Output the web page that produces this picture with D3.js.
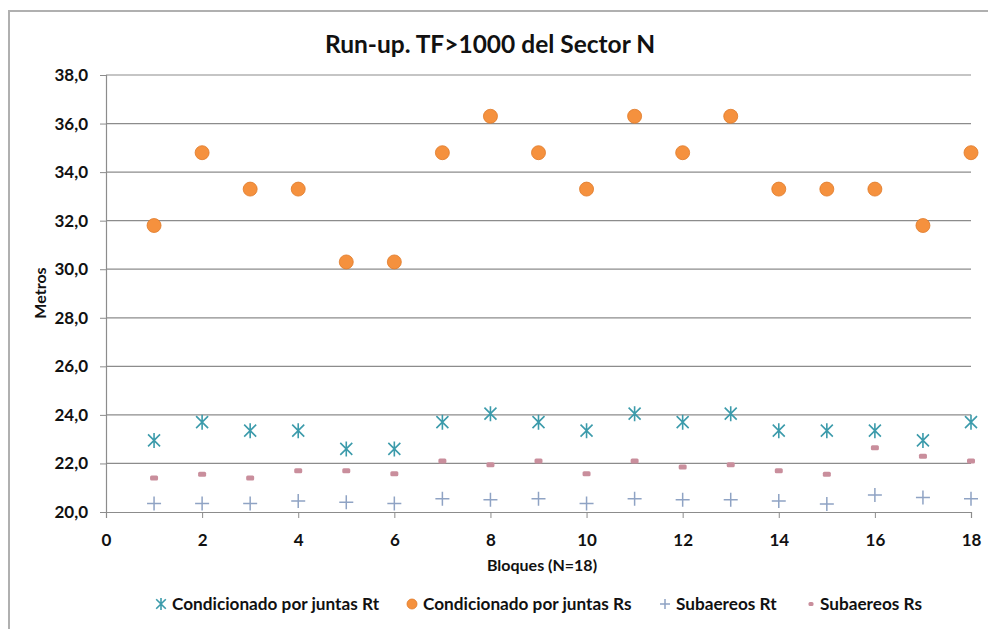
<!DOCTYPE html>
<html><head><meta charset="utf-8">
<script src="https://cdn.jsdelivr.net/npm/d3@7"></script>
<style>body{margin:0;background:#fff;} svg{display:block;}</style>
</head><body>
<svg id="c" width="988" height="629"></svg>
<script>
const bloques = [1,2,3,4,5,6,7,8,9,10,11,12,13,14,15,16,17,18];
const juntasRt = [22.95,23.7,23.35,23.35,22.6,22.6,23.7,24.05,23.7,23.35,24.05,23.7,24.05,23.35,23.35,23.35,22.95,23.7];
const juntasRs = [31.8,34.8,33.3,33.3,30.3,30.3,34.8,36.3,34.8,33.3,36.3,34.8,36.3,33.3,33.3,33.3,31.8,34.8];
const subRt = [20.35,20.35,20.35,20.45,20.4,20.35,20.55,20.5,20.55,20.35,20.55,20.5,20.5,20.45,20.33,20.7,20.6,20.55];
const subRs = [21.4,21.55,21.4,21.7,21.7,21.58,22.1,21.95,22.1,21.58,22.1,21.85,21.95,21.7,21.55,22.65,22.3,22.1];
const xTicks = [0,2,4,6,8,10,12,14,16,18];
const yTicks = [20,22,24,26,28,30,32,34,36,38];
const seriesNames = ["Condicionado por juntas Rt","Condicionado por juntas Rs","Subaereos Rt","Subaereos Rs"];

const FONT = "Lato, 'Open Sans', sans-serif";
const svg = d3.select("#c");
// frame
svg.append("path").attr("d","M9,640 L9,11 L1000,11").attr("fill","none").attr("stroke","#b0b0b0").attr("stroke-width",2);

const x = d3.scaleLinear().domain([0,18]).range([106,971]);
const y = d3.scaleLinear().domain([20,38]).range([512,75]);

// gridlines
svg.append("g").selectAll("line").data(yTicks.filter(d=>d>20)).join("line")
  .attr("x1",x(0)).attr("x2",x(18)).attr("y1",d=>y(d)).attr("y2",d=>y(d))
  .attr("stroke","#8c8c8c").attr("stroke-width",1.2);

// y axis
const ya = svg.append("g").attr("transform",`translate(${x(0)},0)`)
  .call(d3.axisLeft(y).tickValues(yTicks).tickSize(6).tickPadding(12).tickFormat(d=>d3.format(".1f")(d).replace(".",",")));
ya.select(".domain").attr("stroke","#8c8c8c").attr("stroke-width",1.2);
ya.selectAll(".tick line").attr("stroke","#8c8c8c");
ya.selectAll("text").attr("font-family",FONT).attr("font-weight","bold").attr("font-size",17).attr("fill","#111");

// x axis
const xa = svg.append("g").attr("transform",`translate(0,${y(20)})`)
  .call(d3.axisBottom(x).tickValues(xTicks).tickSize(6).tickPadding(16).tickFormat(d3.format("d")));
xa.select(".domain").attr("stroke","#8c8c8c").attr("stroke-width",1.2);
xa.selectAll(".tick line").attr("stroke","#8c8c8c");
xa.selectAll("text").attr("font-family",FONT).attr("font-weight","bold").attr("font-size",17).attr("fill","#111");

// title & axis titles
svg.append("text").attr("x",490).attr("y",53).attr("text-anchor","middle")
  .attr("font-family",FONT).attr("font-weight","bold").attr("font-size",24.5).attr("fill","#111")
  .text("Run-up. TF>1000 del Sector N");
svg.append("text").attr("x",542).attr("y",571).attr("text-anchor","middle")
  .attr("font-family",FONT).attr("font-weight","bold").attr("font-size",16).attr("fill","#111")
  .text("Bloques (N=18)");
svg.append("text").attr("transform","translate(46,293) rotate(-90)").attr("text-anchor","middle")
  .attr("font-family",FONT).attr("font-weight","bold").attr("font-size",16).attr("fill","#111")
  .text("Metros");

// marker drawers
const teal = "#3c9bab", orange = "#f5913e", blueg = "#8fa3c4", pink = "#c98e9c";
function star(g, cx, cy, s){
  const h = s/2;
  g.append("path").attr("d",`M${cx-h*0.8},${cy-h*0.8}L${cx+h*0.8},${cy+h*0.8}M${cx-h*0.8},${cy+h*0.8}L${cx+h*0.8},${cy-h*0.8}M${cx},${cy-h}L${cx},${cy+h}`)
    .attr("stroke",teal).attr("stroke-width",1.6).attr("fill","none");
}
function dot(g, cx, cy, r){
  g.append("circle").attr("cx",cx).attr("cy",cy).attr("r",r).attr("fill",orange).attr("stroke","#e07a28").attr("stroke-width",0.8);
}
function plus(g, cx, cy, s){
  const h = s/2;
  g.append("path").attr("d",`M${cx-h},${cy}L${cx+h},${cy}M${cx},${cy-h}L${cx},${cy+h}`)
    .attr("stroke",blueg).attr("stroke-width",1.5).attr("fill","none");
}
function dash(g, cx, cy, w, hgt){
  g.append("rect").attr("x",cx-w/2).attr("y",cy-hgt/2).attr("width",w).attr("height",hgt).attr("rx",1.5)
    .attr("fill",pink);
}

const gp = svg.append("g");
bloques.forEach((b,i)=>{ plus(gp, x(b), y(subRt[i]), 14); });
bloques.forEach((b,i)=>{ dash(gp, x(b), y(subRs[i]), 8, 5); });
bloques.forEach((b,i)=>{ star(gp, x(b), y(juntasRt[i]), 15); });
bloques.forEach((b,i)=>{ dot(gp, x(b), y(juntasRs[i]), 7); });

// legend
const lg = svg.append("g");
const ly = 604;
const items = [
  {name:seriesNames[0], mx:161, tx:172, draw:(g,cx,cy)=>star(g,cx,cy,12)},
  {name:seriesNames[1], mx:412, tx:423, draw:(g,cx,cy)=>dot(g,cx,cy,5)},
  {name:seriesNames[2], mx:665, tx:676, draw:(g,cx,cy)=>plus(g,cx,cy,10)},
  {name:seriesNames[3], mx:811, tx:820, draw:(g,cx,cy)=>dash(g,cx,cy,5,4)}
];
items.forEach(it=>{
  it.draw(lg, it.mx, ly);
  lg.append("text").attr("x",it.tx).attr("y",ly+6).attr("font-family",FONT).attr("font-weight","bold")
    .attr("font-size",17.2).attr("fill","#111").text(it.name);
});
</script>
</body></html>
